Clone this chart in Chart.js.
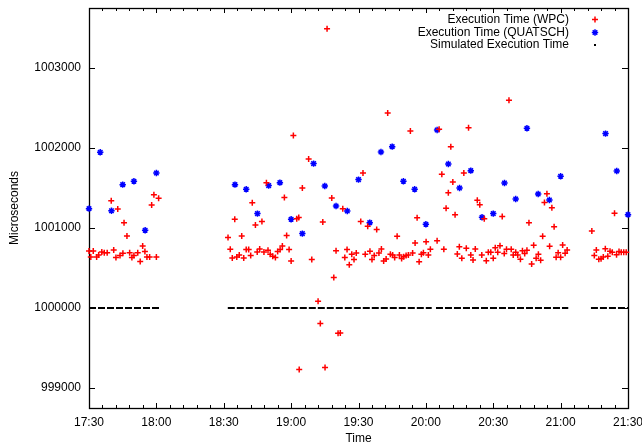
<!DOCTYPE html>
<html>
<head>
<meta charset="utf-8">
<title>Execution Time</title>
<script src="https://cdn.jsdelivr.net/npm/chart.js@4.4.0/dist/chart.umd.min.js"></script>
<style>
  html, body { margin: 0; padding: 0; background: #fff; }
  #wrap { width: 642px; height: 447px; }
</style>
</head>
<body>
<div id="wrap"><canvas id="chart" width="642" height="447"></canvas></div>
<script>
// x values are minutes after 17:30
const wpcTime = [
  0, 0.8, 1.9, 3.4, 4.3, 5.7, 6.8, 8.1, 9.9, 11, 12, 12.8, 13.8, 15.1, 15.6, 16.9, 18.1, 19.1, 20, 21.7,
  22.8, 23.9, 24.9, 25.8, 27, 27.9, 28.9, 30, 31,
  61.9, 62.9, 63.8, 64.9, 65.8, 66.9, 68, 68.9, 70, 71.1, 72, 72.7, 74.1, 74.9, 76, 77, 77.9, 79, 79.7, 80.7,
  81.8, 83, 84, 85.1, 86.1, 87, 88, 89.1, 90, 91, 92.5, 93.4, 93.6, 95, 97.8, 99.2, 102, 103, 104.1, 105.1,
  106, 108.1, 109, 110, 110.9, 111.9, 113, 113.9, 114.9, 115.9, 117, 118, 119, 121, 122, 123, 124.1, 125.1, 126, 127,
  128.1, 129.1, 130.2, 131.2, 132.3, 133, 134.2, 135.2, 136.1, 137.2, 138.2, 139.2, 140.1, 141.2, 142.2, 143.1, 144.1, 145.2, 146.1, 147,
  148, 148.9, 150.1, 151.1, 152, 155, 155.9, 157.1, 158, 159, 160, 161.1, 162, 163, 164, 164.9, 166, 166.9, 168, 169,
  170, 171, 172, 172.9, 174, 174.9, 176, 176.9, 177.8, 178.9, 180, 180.9, 182, 183, 184, 184.9, 185.9, 187, 188, 188.9,
  190, 190.9, 192.1, 193, 194, 195, 195.9, 197.1, 198, 199.1, 200.1, 201.1, 202, 202.8, 203.9, 205.1, 206.1, 207.1, 208, 208.9,
  210, 210.9, 212, 212.9,
  223.9, 225, 225.9, 227, 228, 229, 229.9, 231, 232, 233, 234, 234.9, 236, 237, 238.1, 239.2
];
const wpcMicros = [
  1000712, 1000637, 1000712, 1000637, 1000662, 1000700, 1000692, 1000692, 1001342, 1000725, 1000630, 1001237, 1000655, 1000683, 1001067, 1000900, 1000692, 1000630, 1000655, 1000692,
  1000580, 1000775, 1000705, 1000637, 1000637, 1001287, 1001417, 1000637, 1001371,
  1000880, 1000734, 1000625, 1001109, 1000637, 1000662, 1000900, 1000625, 1000730, 1000730, 1000655, 1001317, 1001037, 1000700, 1000737, 1001080, 1000700, 1001567, 1000721, 1000671,
  1000646, 1000630, 1000705, 1000730, 1000775, 1001380, 1000905, 1000730, 1000587, 1002155, 1001117, 1001130, 999230, 1001500, 1001862, 1000605, 1000084, 999805, 1001075, 999255,
  1003492, 1001375, 1000380, 1000717, 999684, 999687, 1001242, 1000630, 1000730, 1000542, 1000671, 1000605, 1000687, 1001080, 1001687, 1000671, 1001021, 1000709, 1000605, 1000655,
  1000980, 1000687, 1000737, 1000587, 1000612, 1002437, 1000671, 1000662, 1000630, 1000896, 1000662, 1000620, 1000640, 1000655, 1000662, 1002212, 1000687, 1000812, 1001127, 1000577,
  1000671, 1000692, 1000827, 1000662, 1000734, 1000840, 1002234, 1001671, 1000734, 1001246, 1001442, 1002015, 1001575, 1001165, 1000675, 1000765, 1000621, 1001686, 1000746, 1002252,
  1000662, 1000600, 1000736, 1001346, 1001290, 1000662, 1001115, 1000592, 1000696, 1000696, 1000621, 1000752, 1000696, 1000777, 1001144, 1000680, 1000734, 1002596, 1000734, 1000662,
  1000696, 1000662, 1000609, 1000715, 1000680, 1000721, 1001067, 1000550, 1000784, 1000621, 1000671, 1000596, 1000896, 1001319, 1001427, 1000771, 1001252, 1001017, 1000634, 1000690,
  1000634, 1000787, 1000684, 1000725,
  1000962, 1000655, 1000724, 1000609, 1000617, 1000637, 1000742, 1000646, 1000709, 1000696, 1001184, 1000667, 1000705, 1000696, 1000696, 1000696
];
const quatschTime = [
  0, 5, 10, 15, 20, 25, 30,
  65, 70, 75, 80, 85, 90, 95, 100, 105, 110, 115, 120, 125, 130, 135, 140, 145,
  150, 155, 160, 165, 170, 175, 180, 185, 190, 195, 200, 205, 210,
  230, 235, 240
];
const quatschMicros = [
  1001242, 1001946, 1001215, 1001542, 1001584, 1000971, 1001687,
  1001542, 1001484, 1001180, 1001530, 1001567, 1001109, 1000930, 1001805, 1001525, 1001275, 1001212, 1001605, 1001067, 1001950, 1002017, 1001584, 1001484,
  1001046, 1002225, 1001800, 1001500, 1001717, 1001134, 1001180, 1001562, 1001362, 1002246, 1001425, 1001350, 1001646,
  1002180, 1001712, 1001167
];
// simulated runs: start / end minute, constant value
const simStart = [0, 61.8, 154.5, 223.5];
const simEnd = [31.6, 152.6, 213.4, 240];
const simMicros = 1000000;

const xTickLabels = ['17:30', '18:00', '18:30', '19:00', '19:30', '20:00', '20:30', '21:00', '21:30'];
const yTicks = [999000, 1000000, 1001000, 1002000, 1003000];
const legendLabels = ['Execution Time (WPC)', 'Execution Time (QUATSCH)', 'Simulated Execution Time'];

const FONT = '"Liberation Sans", Arial, Helvetica, sans-serif';
Chart.defaults.font.family = FONT;
Chart.defaults.font.size = 12;
Chart.defaults.color = '#000';

function simPoints() {
    const pts = [];
    simStart.forEach((s, i) => {
        pts.push({ x: s, y: simMicros }, { x: simEnd[i], y: simMicros });
        if (i < simStart.length - 1) pts.push({ x: (simEnd[i] + simStart[i + 1]) / 2, y: null });
    });
    return pts;
}

// gnuplot style border with inward ticks on all four sides
const framePlugin = {
    id: 'frame',
    beforeDatasetsDraw(chart) {
        const { ctx, chartArea: a, scales: { x, y } } = chart;
        ctx.save();
        ctx.strokeStyle = '#000';
        ctx.lineWidth = 1;
        ctx.beginPath();
        for (let m = 0; m <= 240; m += 6) {
            const px = Math.round(x.getPixelForValue(m)) + 0.5;
            const len = m % 30 === 0 ? 5 : 3;
            ctx.moveTo(px, a.bottom); ctx.lineTo(px, a.bottom - len);
            ctx.moveTo(px, a.top); ctx.lineTo(px, a.top + len);
        }
        yTicks.forEach(v => {
            const py = Math.round(y.getPixelForValue(v)) + 0.5;
            ctx.moveTo(a.left, py); ctx.lineTo(a.left + 6, py);
            ctx.moveTo(a.right, py); ctx.lineTo(a.right - 6, py);
        });
        ctx.stroke();
        ctx.lineWidth = 1.3;
        ctx.strokeRect(a.left + 0.5, a.top + 0.5, a.right - a.left, a.bottom - a.top);
        ctx.restore();
    },
    afterDraw(chart) {
        const { ctx, chartArea: a } = chart;
        ctx.save();
        ctx.fillStyle = '#000';
        ctx.font = '12px ' + FONT;
        ctx.textAlign = 'center';
        ctx.textBaseline = 'middle';
        ctx.fillText('Time', (a.left + a.right) / 2, 439);
        ctx.translate(15, (a.top + a.bottom) / 2);
        ctx.rotate(-Math.PI / 2);
        ctx.fillText('Microseconds', 0, 0);
        ctx.restore();

        // legend, top right
        ctx.save();
        ctx.font = '12px ' + FONT;
        ctx.textAlign = 'right';
        ctx.textBaseline = 'middle';
        ctx.fillStyle = '#000';
        const rows = [19.5, 32.5, 45];
        legendLabels.forEach((t, i) => ctx.fillText(t, 569, rows[i]));
        ctx.lineWidth = 1.5;
        ctx.strokeStyle = '#ff0000';
        Chart.helpers.drawPoint(ctx, { pointStyle: 'cross', radius: 3, borderWidth: 1.5 }, 595, rows[0]);
        ctx.strokeStyle = '#0000ff';
        Chart.helpers.drawPoint(ctx, { pointStyle: 'star', radius: 3.2, borderWidth: 1.5 }, 595, rows[1]);
        ctx.fillStyle = '#000';
        ctx.fillRect(594, rows[2] - 1, 2, 2);
        ctx.restore();
    }
};

const ctx = document.getElementById('chart').getContext('2d');
new Chart(ctx, {
    type: 'scatter',
    data: {
        datasets: [
            {
                label: legendLabels[2],
                data: simPoints(),
                showLine: true,
                spanGaps: false,
                borderColor: '#000',
                borderWidth: 2,
                borderDash: [7, 2],
                pointRadius: 0,
                clip: false
            },
            {
                label: legendLabels[0],
                data: wpcTime.map((t, i) => ({ x: t, y: wpcMicros[i] })),
                pointStyle: 'cross',
                pointRadius: 3,
                borderWidth: 1.5,
                borderColor: '#ff0000',
                backgroundColor: '#ff0000',
                clip: false
            },
            {
                label: legendLabels[1],
                data: quatschTime.map((t, i) => ({ x: t, y: quatschMicros[i] })),
                pointStyle: 'star',
                pointRadius: 3.2,
                borderWidth: 1.5,
                borderColor: '#0000ff',
                backgroundColor: '#0000ff',
                clip: false
            }
        ]
    },
    options: {
        responsive: false,
        animation: false,
        events: [],
        layout: { padding: { left: 0, right: 14, top: 8, bottom: 0 } },
        plugins: { legend: { display: false }, tooltip: { enabled: false } },
        scales: {
            x: {
                type: 'linear',
                min: 0,
                max: 240,
                grid: { display: false, drawTicks: false },
                border: { display: false },
                afterFit: s => { s.height = 39; s.paddingLeft = 0; s.paddingRight = 0; },
                afterBuildTicks: s => { s.ticks = xTickLabels.map((_, i) => ({ value: i * 30 })); },
                ticks: {
                    autoSkip: false,
                    maxRotation: 0,
                    padding: 7,
                    callback: v => xTickLabels[Math.round(v / 30)]
                }
            },
            y: {
                type: 'linear',
                min: 998750,
                max: 1003750,
                grid: { display: false, drawTicks: false },
                border: { display: false },
                afterFit: s => { s.width = 89; s.paddingTop = 0; s.paddingBottom = 0; },
                afterBuildTicks: s => { s.ticks = yTicks.map(v => ({ value: v })); },
                ticks: { padding: 8, callback: v => String(v) }
            }
        }
    },
    plugins: [framePlugin]
});
</script>
</body>
</html>
